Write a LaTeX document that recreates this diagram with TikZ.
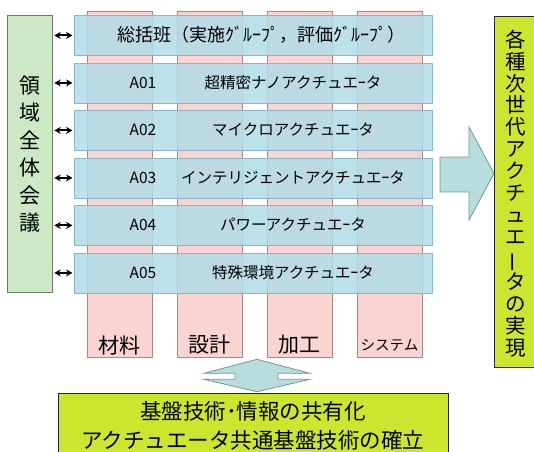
\documentclass[tikz,border=0pt]{standalone}
\usepackage{fontspec}
\newfontfamily\jp{Noto Sans CJK JP}
\usetikzlibrary{arrows.meta}
\definecolor{pinkf}{RGB}{250,212,208}
\definecolor{pinkb}{RGB}{170,135,135}
\definecolor{bluef}{RGB}{178,220,232}
\definecolor{blueb}{RGB}{140,182,200}
\definecolor{greenf}{RGB}{204,232,196}
\definecolor{yellowf}{RGB}{204,229,46}
\definecolor{arrowf}{RGB}{183,221,222}
\definecolor{arrowb}{RGB}{120,150,150}
\tikzset{
  colbox/.style={draw=pinkb, fill=pinkf, line width=0.8pt, minimum width=65pt, minimum height=346pt, anchor=north west, inner sep=0pt},
  rowbox/.style={draw=blueb, fill=bluef, fill opacity=0.85, line width=0.8pt, minimum width=358pt, minimum height=40pt, anchor=north west, inner sep=0pt},
  rowtxt/.style={font=\jp\fontsize{15.5}{17}\selectfont, inner sep=0pt},
  coltxt/.style={font=\jp\fontsize{21}{23}\selectfont, inner sep=0pt},
  greenbox/.style={draw=black!55, fill=greenf, line width=0.8pt, anchor=north west, inner sep=0pt},
  yellowbox/.style={draw=black!85, fill=yellowf, line width=1pt, anchor=north west, inner sep=0pt},
  bigtxt/.style={font=\jp\fontsize{20.5}{21.9}\selectfont, align=center, inner sep=0pt},
  dbl/.style={{Stealth[length=6.5pt,width=7pt]}-{Stealth[length=6.5pt,width=7pt]}, line width=2pt, shorten <=1.5pt, shorten >=1.5pt},
  blockarrow/.style={draw=arrowb, fill=arrowf, line width=0.8pt, line join=miter}
}
\begin{document}
\begin{tikzpicture}[x=1pt,y=-1pt]
\useasboundingbox (0,0) rectangle (534,451);
% columns
\node[colbox] (c1) at (87,11) {};
\node[colbox] (c2) at (177,11) {};
\node[colbox] (c3) at (267,11) {};
\node[colbox] (c4) at (357,11) {};
\node[coltxt] (l1) at (119.5,345) {材料};
\node[coltxt] (l2) at (209.5,345) {設計};
\node[coltxt] (l3) at (299.5,345) {加工};
\node[coltxt, font=\jp\fontsize{14.5}{16}\selectfont] (l4) at (389.5,345) {システム};
% rows
\node[rowbox] (r0) at (74,15) {};
\node[rowbox] (r1) at (74,62.5) {};
\node[rowbox] (r2) at (74,110) {};
\node[rowbox] (r3) at (74,157.5) {};
\node[rowbox] (r4) at (74,205) {};
\node[rowbox] (r5) at (74,252.5) {};
\node[rowtxt, font=\jp\fontsize{18}{19}\selectfont] (t0) at (261,35) {総括班（実施ｸﾞﾙｰﾌﾟ，評価ｸﾞﾙｰﾌﾟ）};
\node[rowtxt] (a1) at (143,82.5) {A01};
\node[rowtxt] (t1) at (293,82.5) {超精密ナノアクチュエｰタ};
\node[rowtxt] (a2) at (143,130) {A02};
\node[rowtxt] (t2) at (293,130) {マイクロアクチュエｰタ};
\node[rowtxt] (a3) at (143,177.5) {A03};
\node[rowtxt] (t3) at (293,177.5) {インテリジェントアクチュエｰタ};
\node[rowtxt] (a4) at (143,225) {A04};
\node[rowtxt] (t4) at (293,225) {パワーアクチュエｰタ};
\node[rowtxt] (a5) at (143,272.5) {A05};
\node[rowtxt] (t5) at (293,272.5) {特殊環境アクチュエｰタ};
% left box
\node[greenbox, minimum width=45pt, minimum height=277pt] (L) at (7,15) {};
\node[bigtxt, font=\jp\fontsize{21}{27.5}\selectfont] (Lt) at (L.center) {領\\域\\全\\体\\会\\議};
% double arrows
\foreach \r in {r0,r1,r2,r3,r4,r5}
  \draw[dbl] (L.east |- \r.west) -- (\r.west);
% right box
\node[yellowbox, minimum width=51pt, minimum height=351pt] (R) at (494,16) {};
\node[bigtxt] (Rt) at (516,193.5) {各\\種\\次\\世\\代\\ア\\ク\\チ\\ュ\\エ\\\rotatebox[origin=c]{90}{ー}\\タ\\の\\実\\現};
% right block arrow
\draw[blockarrow] (440,157) -- (469,157) -- (469,127) -- (494,173.5) -- (469,220) -- (469,192) -- (440,192) -- cycle;
% bottom double block arrow
\draw[blockarrow] (204,373.3) -- (257,359.3) -- (310,373.3) -- (278,373.3) -- (278,379.3) -- (310,379.3) -- (257,391.7) -- (204,379.3) -- (235,379.3) -- (235,373.3) -- cycle;
% bottom box
\node[yellowbox, minimum width=390pt, minimum height=75pt] (B) at (58,393) {};
\node[bigtxt, font=\jp\fontsize{21.5}{29}\selectfont] (Bt) at (253,425.5) {基盤技術･情報の共有化\\アクチュエータ共通基盤技術の確立};
\end{tikzpicture}
\end{document}
